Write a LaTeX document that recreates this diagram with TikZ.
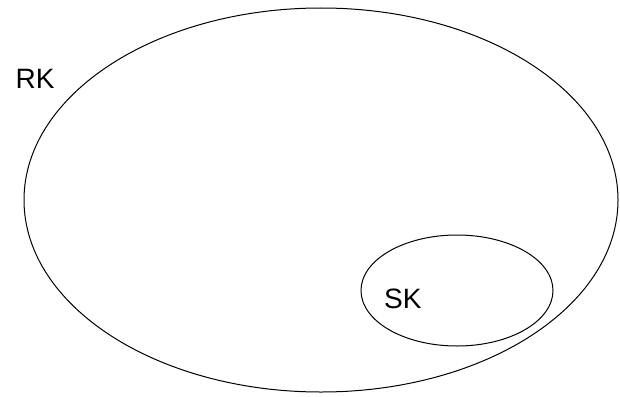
\documentclass[tikz,border=0pt]{standalone}
\usepackage{fontspec}
\setmainfont{Liberation Sans}
\begin{document}
\begin{tikzpicture}[x=1pt,y=-1pt,
  lbl/.style={inner sep=0pt,font=\fontsize{28}{31}\selectfont},
  ell/.style={draw=black,line width=1pt}]
\useasboundingbox (0,0) rectangle (620,396);
\draw[ell] (321,200) ellipse [x radius=297, y radius=192];
\draw[ell] (457,290.5) ellipse [x radius=96, y radius=55.5];
\node[lbl,anchor=base west] (rk) at (15.5,88) {RK};
\node[lbl,anchor=base west] (sk) at (384,308) {SK};
\end{tikzpicture}
\end{document}
